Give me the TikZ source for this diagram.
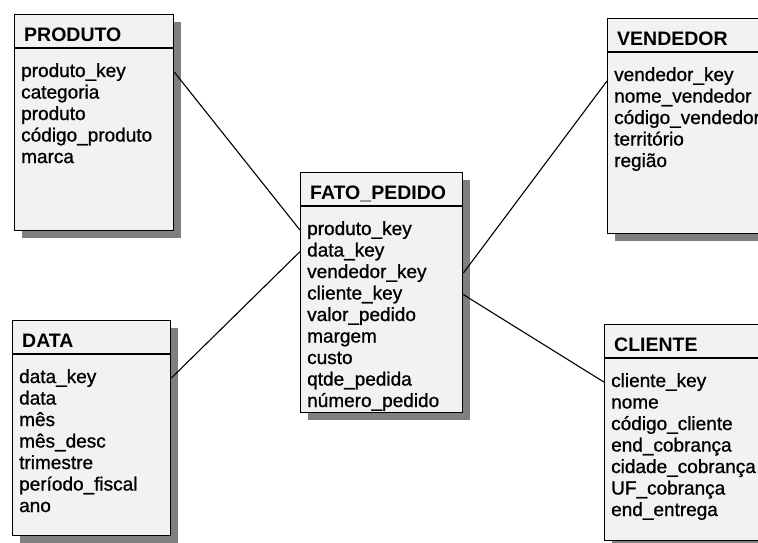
\documentclass[tikz,border=0pt]{standalone}
\usepackage{fontspec}
\setmainfont{Liberation Sans}
\newfontfamily\fieldfont[FakeBold=0.9]{Liberation Sans}
\usetikzlibrary{shadows}

% one star-schema table: name, x, y (top left), width, height, title, fields
\newcommand{\erdtable}[7]{%
  \node[tbl, minimum width=#4pt, minimum height=#5pt] (#1) at (#2,#3) {};
  \draw[rule] ([yshift=-34pt]#1.north west) -- ([yshift=-34pt]#1.north east);
  \node[ttl] (#1-t) at ([xshift=10pt,yshift=-27pt]#1.north west) {#6};
  \foreach \f [count=\i] in {#7}
    \node[fld] (#1-\i) at ([xshift=7pt,yshift={-63pt-(\i-1)*21.5pt}]#1.north west) {\f};
}

\begin{document}
\begin{tikzpicture}[x=1pt,y=-1pt,
  tbl/.style={rectangle, draw=black, line width=1.3pt, fill=black!5,
    inner sep=0pt, anchor=north west,
    general shadow={fill=black!50, shadow xshift=7pt, shadow yshift=-7pt}},
  rule/.style={line width=1.1pt},
  ttl/.style={font=\fontsize{19.5}{21}\selectfont\bfseries, anchor=base west, inner sep=0pt},
  fld/.style={font=\fontsize{19}{21}\selectfont\fieldfont, anchor=base west, inner sep=0pt},
  link/.style={line width=1.1pt}]
\useasboundingbox (0,0) rectangle (758,542);
\clip (0,0) rectangle (758,542);

\erdtable{produto}{14}{14}{159}{216}{PRODUTO}%
  {produto\_key, categoria, produto, código\_produto, marca}
\erdtable{data}{12}{320}{158}{215}{DATA}%
  {data\_key, data, mês, mês\_desc, trimestre, período\_fiscal, ano}
\erdtable{fato}{300}{172}{162}{240}{FATO\_PEDIDO}%
  {produto\_key, data\_key, vendedor\_key, cliente\_key, valor\_pedido,
   margem, custo, qtde\_pedida, número\_pedido}
\erdtable{vendedor}{607}{18}{175}{215}{VENDEDOR}%
  {vendedor\_key, nome\_vendedor, código\_vendedor, território, região}
\erdtable{cliente}{604}{324}{175}{216}{CLIENTE}%
  {cliente\_key, nome, código\_cliente, end\_cobrança, cidade\_cobrança,
   UF\_cobrança, end\_entrega}

% key relationships between the fact table and the dimensions
\draw[link] (produto.east |- produto-1.center) -- (fato.west |- fato-1.center);
\draw[link] (data.east |- data-1.center) -- (fato.west |- fato-2.center);
\draw[link] (fato.east |- fato-3.center) -- (vendedor.west |- vendedor-1.base);
\draw[link] (fato.east |- fato-4.center) -- (cliente.west |- cliente-1.center);
\end{tikzpicture}
\end{document}
